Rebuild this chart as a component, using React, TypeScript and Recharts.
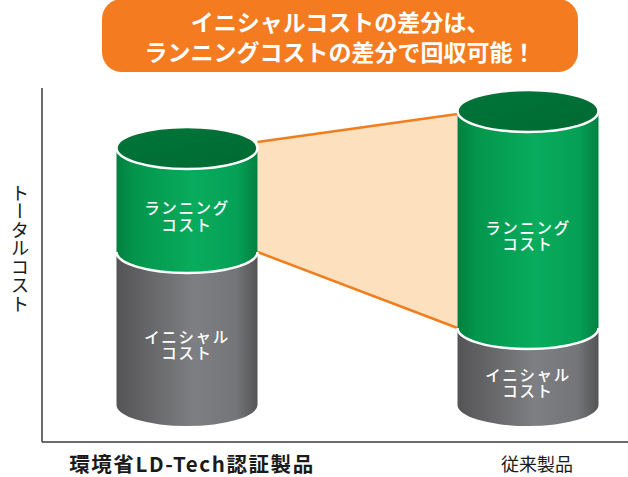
import React from 'react';
import { BarChart, Bar, XAxis, YAxis } from 'recharts';

const categories = ['環境省LD-Tech認証製品', '従来製品'];
const initialCost = [153, 77];
const runningCost = [104, 217];
const initialLabel = ['イニシャル', 'コスト'];
const runningLabel = ['ランニング', 'コスト'];
const titleLines = ['イニシャルコストの差分は、', 'ランニングコストの差分で回収可能！'];
const yAxisTitle = 'トータルコスト';
const yDomain: [number, number] = [-37, 317];

const data = categories.map((name, i) => ({
  name,
  initial: initialCost[i],
  running: runningCost[i],
}));

const FONT = '"Noto Sans CJK JP", "Noto Sans", sans-serif';
const RY = 21;

function SegmentLabel({ cx, cy, lines }: { cx: number; cy: number; lines: string[] }) {
  const fs = 15.5;
  const gap = 16.5;
  return (
    <text
      x={cx}
      textAnchor="middle"
      fill="#ffffff"
      fontSize={fs}
      letterSpacing={1.6}
      fontWeight={500}
      fontFamily={FONT}
    >
      {lines.map((t, i) => (
        <tspan key={i} x={cx} y={cy + (i - (lines.length - 1) / 2) * gap + fs * 0.36}>
          {t}
        </tspan>
      ))}
    </text>
  );
}

export default function App() {
  const store: any = {};

  const InitialShape = (props: any) => {
    const { x, y, width: w, height: h, index, payload } = props;
    const rx = w / 2;
    const k = h / payload.initial;
    let funnel: React.ReactNode = null;
    if (index === 0) {
      store.left = { x, w, base: y + h, k };
    }
    if (index === 1 && store.left) {
      const L = store.left;
      const lx = L.x + L.w;
      const lTop = L.base - L.k * (data[0].initial + data[0].running) - 6;
      const lMid = L.base - L.k * data[0].initial;
      const rTop = y - k * payload.running + 3;
      const rMid = y;
      funnel = (
        <g>
          <polygon points={`${lx},${lTop} ${x},${rTop} ${x},${rMid} ${lx},${lMid}`} fill="#fde0bd" />
          <line x1={lx} y1={lTop} x2={x} y2={rTop} stroke="#f07d1e" strokeWidth={2.5} />
          <line x1={lx} y1={lMid} x2={x} y2={rMid} stroke="#f07d1e" strokeWidth={2.5} />
        </g>
      );
    }
    const d = `M ${x},${y} L ${x},${y + h} A ${rx} ${RY} 0 0 0 ${x + w},${y + h} L ${x + w},${y} A ${rx} ${RY} 0 0 1 ${x},${y} Z`;
    return (
      <g>
        {funnel}
        <path d={d} fill="url(#grayGrad)" />
        <SegmentLabel cx={x + w / 2} cy={y + h / 2 + 17} lines={initialLabel} />
      </g>
    );
  };

  const RunningShape = (props: any) => {
    const { x, y, width: w, height: h } = props;
    const rx = w / 2;
    const body = `M ${x},${y} L ${x},${y + h} A ${rx} ${RY} 0 0 0 ${x + w},${y + h} L ${x + w},${y} Z`;
    const edge = `M ${x},${y + h} A ${rx} ${RY} 0 0 0 ${x + w},${y + h}`;
    return (
      <g>
        <path d={body} fill="url(#greenGrad)" />
        <path d={edge} fill="none" stroke="#ffffff" strokeWidth={2.5} />
        <ellipse cx={x + rx} cy={y} rx={rx} ry={RY} fill="url(#topGrad)" stroke="#ffffff" strokeWidth={2.5} />
        <SegmentLabel cx={x + w / 2} cy={y + h / 2 + 17} lines={runningLabel} />
      </g>
    );
  };

  const XTick = (props: any) => {
    const { x, y, payload, index } = props;
    const bold = index === 0;
    return (
      <text
        x={x + (bold ? 5 : 9)}
        y={y + 13}
        textAnchor="middle"
        dominantBaseline="central"
        fill="#1a1a1a"
        fontSize={bold ? 20.5 : 18}
        letterSpacing={bold ? 1.6 : 0}
        fontWeight={bold ? 700 : 400}
        fontFamily={FONT}
      >
        {payload.value}
      </text>
    );
  };

  const renderYTitle = (props: any) => {
    const vb = props.viewBox || { x: 0, y: 88, width: 42, height: 354 };
    return (
      <text
        x={vb.x + 20}
        y={vb.y + vb.height / 2 - 17}
        textAnchor="middle"
        fill="#1a1a1a"
        fontSize={18.5}
        fontWeight={400}
        fontFamily={FONT}
        style={{ writingMode: 'vertical-rl', textOrientation: 'upright', fontFeatureSettings: '"vert" 1' } as any}
      >
        {yAxisTitle}
      </text>
    );
  };

  return (
    <div style={{ position: 'absolute', left: 0, top: 0, width: 628, height: 477, background: '#fff' }}>
      <BarChart
        width={628}
        height={477}
        data={data}
        margin={{ top: 88, right: 0, bottom: 0, left: 0 }}
        barSize={141}
      >
        <defs>
          <linearGradient id="grayGrad" x1="0" y1="0" x2="1" y2="0">
            <stop offset="0" stopColor="#545456" />
            <stop offset="0.15" stopColor="#606062" />
            <stop offset="0.55" stopColor="#7e7f82" />
            <stop offset="0.85" stopColor="#747578" />
            <stop offset="1" stopColor="#545456" />
          </linearGradient>
          <linearGradient id="greenGrad" x1="0" y1="0" x2="1" y2="0">
            <stop offset="0" stopColor="#02803f" />
            <stop offset="0.14" stopColor="#03964c" />
            <stop offset="0.55" stopColor="#08ac5d" />
            <stop offset="0.86" stopColor="#05a055" />
            <stop offset="1" stopColor="#02803f" />
          </linearGradient>
          <linearGradient id="topGrad" x1="0" y1="0" x2="1" y2="1">
            <stop offset="0" stopColor="#00753a" />
            <stop offset="1" stopColor="#006a33" />
          </linearGradient>
        </defs>
        <XAxis
          dataKey="name"
          type="category"
          height={35}
          padding={{ left: -25.5, right: -70.5 }}
          axisLine={{ stroke: '#3a3a3a', strokeWidth: 1.5 }}
          tickLine={false}
          interval={0}
          tick={<XTick />}
        />
        <YAxis
          type="number"
          width={42}
          domain={yDomain}
          allowDataOverflow
          tick={false}
          tickLine={false}
          axisLine={{ stroke: '#3a3a3a', strokeWidth: 1.5 }}
          label={{ value: yAxisTitle, content: renderYTitle }}
        />
        <Bar dataKey="initial" stackId="a" shape={InitialShape} isAnimationActive={false} />
        <Bar dataKey="running" stackId="a" shape={RunningShape} isAnimationActive={false} />
      </BarChart>
      <div
        style={{
          position: 'absolute',
          left: 102,
          top: -1,
          width: 476,
          height: 73,
          borderRadius: 20,
          background: '#f47b20',
          color: '#ffffff',
          fontFamily: FONT,
          fontWeight: 700,
          fontSize: 23,
          lineHeight: '30px',
          display: 'flex',
          flexDirection: 'column',
          alignItems: 'center',
          justifyContent: 'center',
        }}
      >
        {titleLines.map((t, i) => (
          <div key={i} style={{ whiteSpace: 'nowrap' }}>{t}</div>
        ))}
      </div>
    </div>
  );
}
